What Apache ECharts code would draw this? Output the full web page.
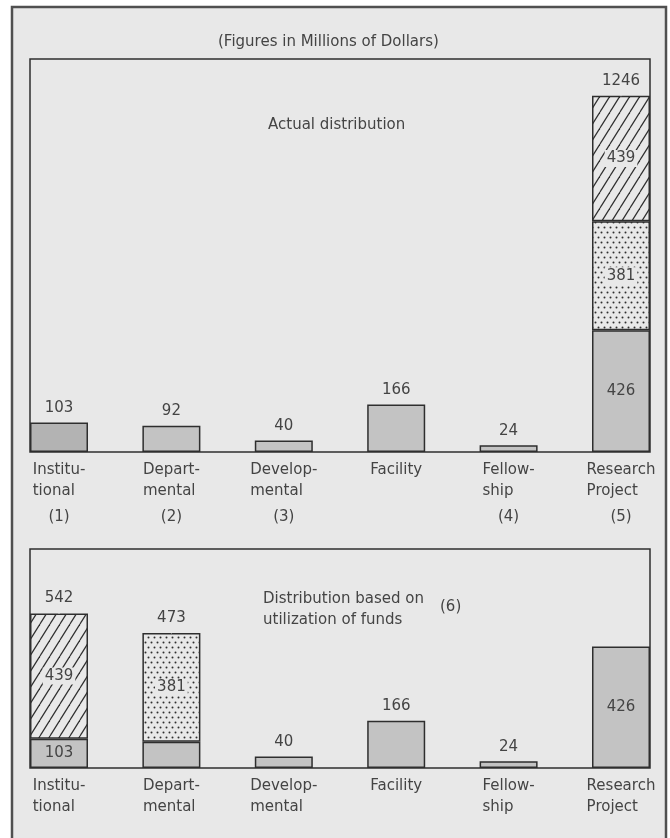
<!DOCTYPE html>
<html>
<head>
<meta charset="utf-8">
<script src="https://cdn.jsdelivr.net/npm/echarts@6/dist/echarts.min.js"></script>
<style>
  html, body { margin: 0; padding: 0; background: #fff; }
  #main { width: 670px; height: 838px; }
</style>
</head>
<body>
<div id="main"></div>
<script>
// categories and their printed labels
var categories = ['Institutional', 'Departmental', 'Developmental', 'Facility', 'Fellowship', 'Research Project'];
var catLines = [['Institu-', 'tional'], ['Depart-', 'mental'], ['Develop-', 'mental'], ['Facility'], ['Fellow-', 'ship'], ['Research', 'Project']];
var catNumbers = ['(1)', '(2)', '(3)', '', '(4)', '(5)'];

// top panel: actual distribution
var actualBase = [103, 92, 40, 166, 24, 426];
var actualDots = ['-', '-', '-', '-', '-', 381];
var actualHatch = ['-', '-', '-', '-', '-', 439];
var actualTotal = ['-', '-', '-', '-', '-', 1246];
var actualBaseLabel = ['top', 'top', 'top', 'top', 'top', 'inside'];

// bottom panel: distribution based on utilization of funds
var utilBase = [103, 92, 40, 166, 24, 426];
var utilHatch = [439, '-', '-', '-', '-', '-'];
var utilDots = ['-', 381, '-', '-', '-', '-'];
var utilTotal = [542, 473, '-', '-', '-', '-'];
var utilBaseLabel = ['inside', 'none', 'top', 'top', 'top', 'inside'];

var FONT = 'DejaVu Sans';
var INK = '#444';
var PAPER = '#e8e8e8';
var GREY = '#c3c3c3';

function hatchPattern() {
  var c = document.createElement('canvas');
  var w = 10, h = 16;
  c.width = w; c.height = h;
  var g = c.getContext('2d');
  g.fillStyle = PAPER; g.fillRect(0, 0, w, h);
  g.strokeStyle = '#2e2e2e'; g.lineWidth = 1.2;
  for (var k = -1; k <= 1; k++) {
    g.beginPath(); g.moveTo(k * w, h); g.lineTo(k * w + w, 0); g.stroke();
  }
  return { image: c, repeat: 'repeat' };
}

function dotPattern() {
  var c = document.createElement('canvas');
  var w = 6, h = 10;
  c.width = w; c.height = h;
  var g = c.getContext('2d');
  g.fillStyle = PAPER; g.fillRect(0, 0, w, h);
  g.fillStyle = '#2e2e2e';
  g.beginPath(); g.arc(1.5, 2.5, 1, 0, Math.PI * 2); g.fill();
  g.beginPath(); g.arc(4.5, 7.5, 1, 0, Math.PI * 2); g.fill();
  return { image: c, repeat: 'repeat' };
}

var hatch = hatchPattern();
var dots = dotPattern();

var barStyle = { borderColor: '#2e2e2e', borderWidth: 1.5 };
var valueLabel = { fontFamily: FONT, fontSize: 15, color: INK };

function baseItems(values, modes, darkFirst) {
  return values.map(function (v, i) {
    var item = { value: v };
    if (modes[i] === 'none') item.label = { show: false };
    else item.label = { show: true, position: modes[i], distance: 7 };
    if (darkFirst && i === 0) item.itemStyle = { color: '#b3b3b3' };
    return item;
  });
}

function barSeries(name, data, x, y, color, labelOpt) {
  return {
    name: name, type: 'bar', stack: 'p' + x, xAxisIndex: x, yAxisIndex: y,
    barWidth: 58, data: data,
    itemStyle: Object.assign({ color: color }, barStyle),
    label: Object.assign({}, valueLabel, labelOpt || { show: false })
  };
}

var patternLabel = { show: true, position: 'inside', backgroundColor: PAPER, padding: [1, 2] };

function totalSeries(data, x, y) {
  return {
    type: 'scatter', xAxisIndex: x, yAxisIndex: y, data: data,
    symbolSize: 1, itemStyle: { color: PAPER, opacity: 1 },
    label: Object.assign({ show: true, position: 'top', distance: 7 }, valueLabel)
  };
}

function catAxis(grid, withNumbers) {
  return {
    type: 'category', gridIndex: grid, data: categories,
    axisLine: { show: false }, axisTick: { show: false },
    axisLabel: {
      interval: 0, margin: 8, align: 'center', hideOverlap: false,
      formatter: function (v, i) {
        var parts = catLines[i].map(function (s) { return '{a|' + s + '}'; });
        if (withNumbers && catNumbers[i]) parts.push('{n|' + catNumbers[i] + '}');
        return parts.join('\n');
      },
      rich: {
        a: { fontFamily: FONT, fontSize: 15, color: INK, lineHeight: 21, align: 'left' },
        n: { fontFamily: FONT, fontSize: 15, color: INK, lineHeight: 30, align: 'center' }
      }
    }
  };
}

function hiddenAxis(grid) {
  return { type: 'value', gridIndex: grid, show: false };
}

var frame = { show: true, borderColor: '#2e2e2e', borderWidth: 1.5, backgroundColor: 'transparent', outerBoundsMode: 'none' };
var dataGrid = { left: 2.8, width: 674.4, outerBoundsMode: 'none', containLabel: false };

var option = {
  backgroundColor: '#fff',
  animation: false,
  textStyle: { fontFamily: FONT },
  graphic: {
    elements: [{
      type: 'rect', z: -100, silent: true,
      shape: { x: 12, y: 7, width: 654, height: 850 },
      style: { fill: PAPER, stroke: '#505050', lineWidth: 2.5 }
    }]
  },
  title: [
    { text: '(Figures in Millions of Dollars)', left: 218, top: 35, padding: 0,
      textStyle: { fontFamily: FONT, fontSize: 15, fontWeight: 'normal', color: INK } },
    { text: 'Actual distribution', left: 268, top: 118, padding: 0,
      textStyle: { fontFamily: FONT, fontSize: 15, fontWeight: 'normal', color: INK } },
    { text: 'Distribution based on\nutilization of funds', left: 263, top: 589, padding: 0,
      textStyle: { fontFamily: FONT, fontSize: 15, fontWeight: 'normal', color: INK, lineHeight: 21 } },
    { text: '(6)', left: 440, top: 600, padding: 0,
      textStyle: { fontFamily: FONT, fontSize: 15, fontWeight: 'normal', color: INK } }
  ],
  grid: [
    Object.assign({ left: 30, right: 20, top: 59, bottom: 386 }, frame),
    Object.assign({ top: 59, bottom: 386 }, dataGrid),
    Object.assign({ left: 30, right: 20, top: 549, bottom: 70 }, frame),
    Object.assign({ top: 549, bottom: 70 }, dataGrid)
  ],
  xAxis: [hiddenAxis(0), catAxis(1, true), hiddenAxis(2), catAxis(3, false)],
  yAxis: [
    hiddenAxis(0),
    { type: 'value', gridIndex: 1, min: 0, max: 1375, show: false },
    hiddenAxis(2),
    { type: 'value', gridIndex: 3, min: 0, max: 768, show: false }
  ],
  series: [
    barSeries('Actual base', baseItems(actualBase, actualBaseLabel, true), 1, 1, GREY, { show: true }),
    barSeries('Actual dotted', actualDots, 1, 1, dots, patternLabel),
    barSeries('Actual hatched', actualHatch, 1, 1, hatch, patternLabel),
    totalSeries(actualTotal, 1, 1),
    barSeries('Utilization base', baseItems(utilBase, utilBaseLabel, false), 3, 3, GREY, { show: true }),
    barSeries('Utilization hatched', utilHatch, 3, 3, hatch, patternLabel),
    barSeries('Utilization dotted', utilDots, 3, 3, dots, patternLabel),
    totalSeries(utilTotal, 3, 3)
  ]
};

var chart = echarts.init(document.getElementById('main'));
chart.setOption(option);
</script>
</body>
</html>
